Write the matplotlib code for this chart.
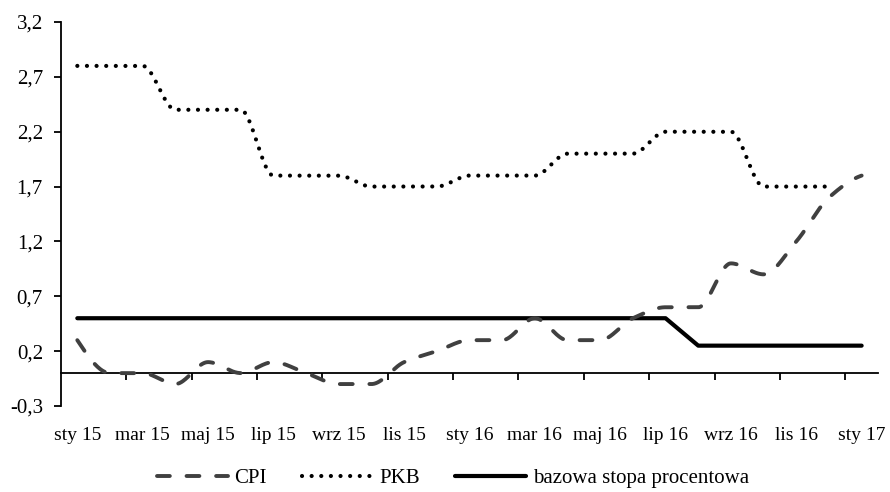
import numpy as np
import matplotlib
matplotlib.use("Agg")
import matplotlib.pyplot as plt
from matplotlib.ticker import FixedLocator, FuncFormatter

plt.rcParams['font.family'] = ['Liberation Serif', 'DejaVu Serif']

# ---- data ----
months = ["sty 15", "lut 15", "mar 15", "kwi 15", "maj 15", "cze 15", "lip 15", "sie 15",
          "wrz 15", "paź 15", "lis 15", "gru 15", "sty 16", "lut 16", "mar 16", "kwi 16",
          "maj 16", "cze 16", "lip 16", "sie 16", "wrz 16", "paź 16", "lis 16", "gru 16",
          "sty 17"]
cpi = [0.3, 0.0, 0.0, -0.1, 0.1, 0.0, 0.1, 0.0, -0.1, -0.1, 0.1, 0.2, 0.3,
       0.3, 0.5, 0.3, 0.3, 0.5, 0.6, 0.6, 1.0, 0.9, 1.2, 1.6, 1.8]
pkb = [2.8, 2.8, 2.8, 2.4, 2.4, 2.4, 1.8, 1.8, 1.8, 1.7, 1.7, 1.7,
       1.8, 1.8, 1.8, 2.0, 2.0, 2.0, 2.2, 2.2, 2.2, 1.7, 1.7, 1.7]
stopa = [0.5] * 19 + [0.25] * 6
yticks = [-0.3, 0.2, 0.7, 1.2, 1.7, 2.2, 2.7, 3.2]
series_names = ["CPI", "PKB", "bazowa stopa procentowa"]


def smooth(ys, n=40):
    """Monotone cubic (Fritsch-Carlson) smoothing through the data points."""
    y = np.asarray(ys, dtype=float)
    m = len(y)
    d = np.diff(y)
    s = np.zeros(m)
    for k in range(1, m - 1):
        if d[k - 1] * d[k] > 0:
            s[k] = 2.0 / (1.0 / d[k - 1] + 1.0 / d[k])
    for k, (d0, d1) in ((0, (d[0], d[1])), (m - 1, (d[-1], d[-2]))):
        e = (3 * d0 - d1) / 2.0
        if np.sign(e) != np.sign(d0):
            e = 0.0
        elif np.sign(d0) != np.sign(d1) and abs(e) > abs(3 * d0):
            e = 3 * d0
        s[k] = e
    t = np.linspace(0, 1, n)[:-1]
    h00 = 2 * t**3 - 3 * t**2 + 1
    h10 = t**3 - 2 * t**2 + t
    h01 = -2 * t**3 + 3 * t**2
    h11 = t**3 - t**2
    xs, out = [], []
    for k in range(m - 1):
        xs.extend(k + t)
        out.extend(h00 * y[k] + h10 * s[k] + h01 * y[k + 1] + h11 * s[k + 1])
    xs.append(m - 1)
    out.append(y[-1])
    return np.array(xs), np.array(out)


fig = plt.figure(figsize=(8.9, 4.92), dpi=100)
ax = fig.add_axes([0.0685, 0.1748, 0.918, 0.7805])

x_all = np.arange(len(months))
sx, sy = smooth(cpi)
ax.plot(sx, sy, color='#404040', lw=2.8, linestyle=(0, (3.3, 4.3)),
        dash_capstyle='round', label=series_names[0], zorder=3)
sx, sy = smooth(pkb)
ax.plot(sx, sy, color='black', lw=3.0, linestyle=(0, (0.01, 2.3)),
        dash_capstyle='round', label=series_names[1], zorder=3)
ax.plot(x_all[:len(stopa)], stopa, color='black', lw=3.0,
        solid_capstyle='round', label=series_names[2], zorder=2)

ax.set_xlim(-0.5, len(months) - 0.5)
ax.set_ylim(yticks[0], yticks[-1])

for s in ['top', 'right']:
    ax.spines[s].set_visible(False)
ax.spines['left'].set_linewidth(1.3)
ax.spines['bottom'].set_linewidth(1.3)
ax.spines['bottom'].set_position(('data', 0))

ax.yaxis.set_major_locator(FixedLocator(yticks))
ax.yaxis.set_major_formatter(FuncFormatter(lambda v, p: f"{v:.1f}".replace('.', ',')))
ax.tick_params(axis='y', direction='out', length=5, width=1.3, pad=8, labelsize=15)

major = list(range(0, len(months), 2))
ax.set_xticks(major)
ax.set_xticklabels([months[i] for i in major])
ax.set_xticks([i + 0.5 for i in range(1, len(months) - 1, 2)], minor=True)
ax.tick_params(axis='x', which='major', length=0, pad=39, labelsize=14)
ax.tick_params(axis='x', which='minor', direction='out', length=5, width=1.3)

fig.legend(loc='center', bbox_to_anchor=(0.509, 0.028), ncol=3, frameon=False,
           fontsize=15, handlelength=3.4, handletextpad=0.3, columnspacing=1.7,
           borderaxespad=0, borderpad=0)

fig.savefig('out.png', dpi=100)
